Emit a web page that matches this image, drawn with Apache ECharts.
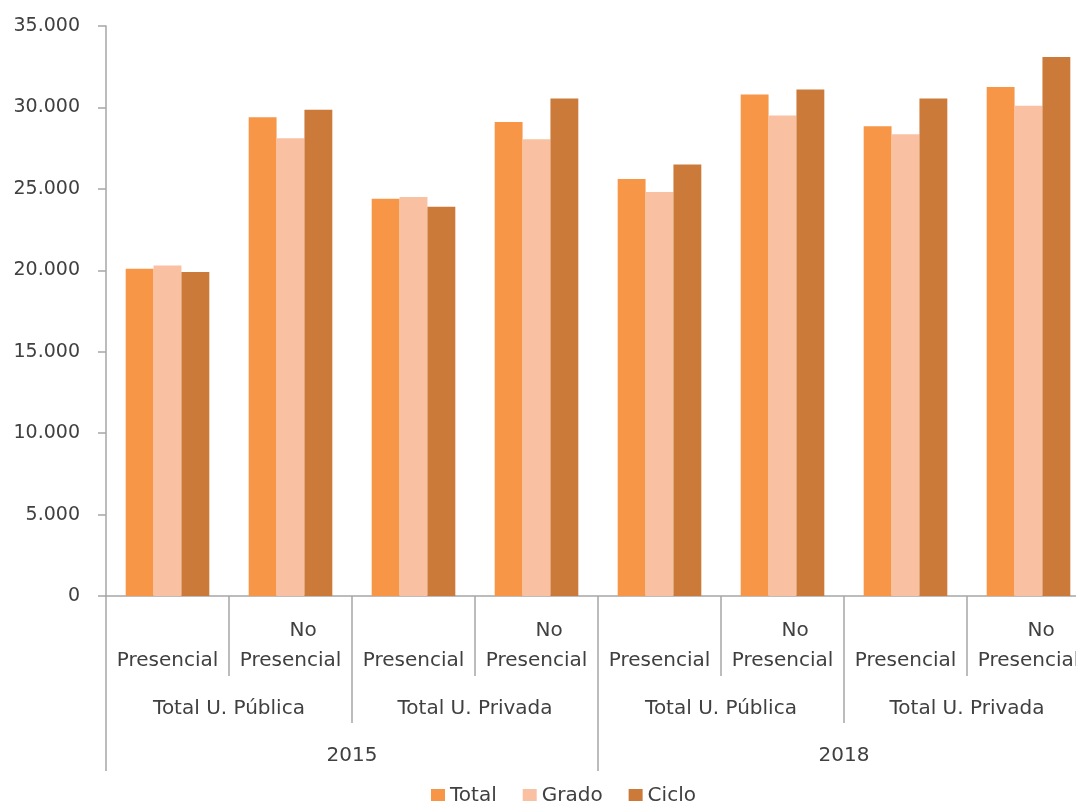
<!DOCTYPE html>
<html>
<head>
<meta charset="utf-8">
<script src="https://cdn.jsdelivr.net/npm/echarts@6/dist/echarts.min.js"></script>
<style>html,body{margin:0;padding:0;background:#fff}#c{width:1076px;height:801px}</style>
</head>
<body>
<div id="c"></div>
<script>
const subCategories = ['Presencial', 'No\nPresencial', 'Presencial', 'No\nPresencial', 'Presencial', 'No\nPresencial', 'Presencial', 'No\nPresencial'];
const universities = ['Total U. Pública', 'Total U. Privada', 'Total U. Pública', 'Total U. Privada'];
const years = ['2015', '2018'];
const seriesNames = ['Total', 'Grado', 'Ciclo'];
const totalValues = [20100, 29400, 24400, 29100, 25600, 30800, 28850, 31250];
const gradoValues = [20300, 28100, 24500, 28050, 24800, 29500, 28350, 30100];
const cicloValues = [19900, 29850, 23900, 30550, 26500, 31100, 30550, 33100];
const colors = ['#F79646', '#FAC0A2', '#CC7A3A'];

const chart = echarts.init(document.getElementById('c'));
const font = 'DejaVu Sans';
const grey = '#A6A6A6';
const txt = '#404040';
chart.setOption({
  animation: false,
  textStyle: { fontFamily: font },
  grid: { left: 106, width: 984, top: 26, bottom: 205, outerBoundsMode: 'none', containLabel: false },
  legend: {
    top: 781, left: 426,
    itemWidth: 14, itemHeight: 14, itemGap: 26,
    icon: 'rect',
    textStyle: { fontSize: 20, color: txt, fontFamily: font },
    data: seriesNames
  },
  xAxis: [
    {
      type: 'category', data: subCategories, position: 'bottom',
      axisLine: { lineStyle: { color: grey, width: 1.5 } },
      axisTick: { show: true, length: 80, interval: 0, lineStyle: { color: grey, width: 1.5 } },
      axisLabel: {
        interval: 0, fontSize: 20, color: txt, lineHeight: 30, verticalAlign: 'bottom', margin: 80,
        formatter: v => v.replace(/^No\n/, '    No\n')
      }
    },
    {
      type: 'category', data: universities, position: 'bottom',
      axisLine: { show: false },
      axisTick: { show: true, length: 127, interval: 0, lineStyle: { color: grey, width: 1.5 } },
      axisLabel: { interval: 0, fontSize: 20, color: txt, verticalAlign: 'middle', margin: 113 }
    },
    {
      type: 'category', data: years, position: 'bottom',
      axisLine: { show: false },
      axisTick: { show: true, length: 175, interval: 0, lineStyle: { color: grey, width: 1.5 } },
      axisLabel: { interval: 0, fontSize: 20, color: txt, verticalAlign: 'middle', margin: 160 }
    }
  ],
  yAxis: {
    type: 'value', min: 0, max: 35000, interval: 5000,
    axisLine: { show: true, lineStyle: { color: grey, width: 1.5 } },
    axisTick: { show: true, length: 8, lineStyle: { color: grey, width: 1.5 } },
    splitLine: { show: false },
    axisLabel: {
      fontSize: 19, color: txt, margin: 26,
      formatter: v => v === 0 ? '0' : v.toLocaleString('de-DE')
    }
  },
  series: [
    { name: seriesNames[0], type: 'bar', data: totalValues, itemStyle: { color: colors[0] }, barGap: '0%', barCategoryGap: '32%' },
    { name: seriesNames[1], type: 'bar', data: gradoValues, itemStyle: { color: colors[1] }, barGap: '0%', barCategoryGap: '32%' },
    { name: seriesNames[2], type: 'bar', data: cicloValues, itemStyle: { color: colors[2] }, barGap: '0%', barCategoryGap: '32%' }
  ]
});
</script>
</body>
</html>
